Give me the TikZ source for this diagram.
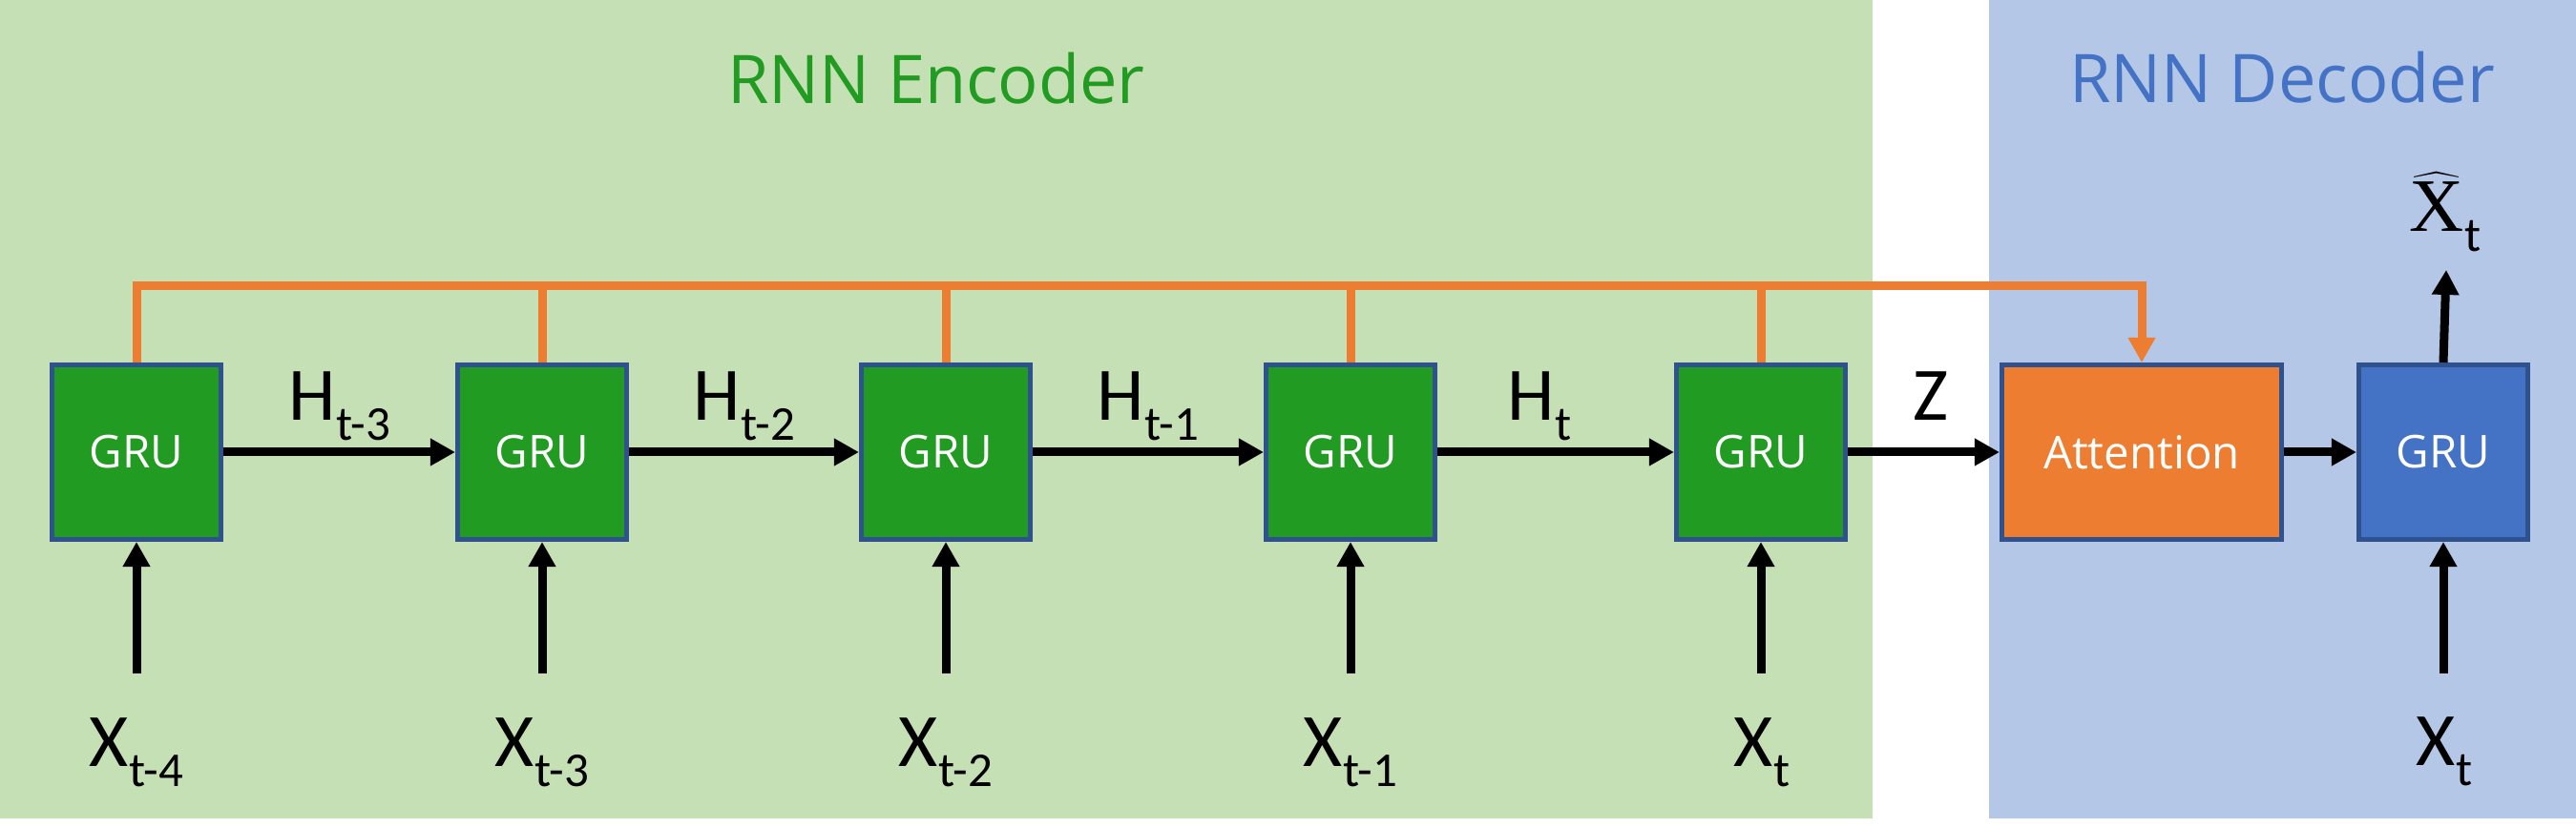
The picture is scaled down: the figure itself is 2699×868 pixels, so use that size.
\documentclass[tikz,border=0pt]{standalone}
\usepackage{amsmath}
\usepackage{graphicx}
\usepackage{fontspec}
\setmainfont{Carlito}
\newfontfamily\osans{Open Sans}
\newfontfamily\serifx{Liberation Serif}
\usetikzlibrary{arrows.meta}
\definecolor{bgG}{HTML}{C5E0B4}
\definecolor{bgB}{HTML}{B4C7E7}
\definecolor{gruG}{HTML}{229B22}
\definecolor{encT}{HTML}{229B22}
\definecolor{decB}{HTML}{4472C4}
\definecolor{attO}{HTML}{ED7D31}
\definecolor{bord}{HTML}{2F528F}
\newcommand{\sublbl}[2]{#1\raisebox{-5.8pt}{\fontsize{14.5}{14.5}\selectfont #2}}
\newcommand{\hatX}{\ooalign{{\serifx X}\cr\hidewidth\raisebox{11pt}{\fontsize{9.5}{9.5}\selectfont$\widehat{\hbox to 13.8pt{}}$}\hidewidth\cr}}
\begin{document}
\begin{tikzpicture}[x=0.01cm,y=-0.01cm,
  box/.style={draw=bord,line width=1.4pt,minimum width=1.77cm,minimum height=1.83cm,inner sep=0pt,text=white,font=\osans\fontsize{13.5}{13.5}\selectfont},
  grubox/.style={box,fill=gruG},
  arr/.style={line width=2.56pt,-{Triangle[length=7.4pt,width=7.7pt]}},
  oline/.style={draw=attO,line width=2.56pt,line join=miter},
  lbl/.style={anchor=base,inner sep=0pt,font=\fontsize{22.5}{22.5}\selectfont},
  title/.style={anchor=base,inner sep=0pt,font=\osans\fontsize{20}{20}\selectfont}]
\useasboundingbox (0,0) rectangle (2699,868);
\fill[bgG] (0,0) rectangle (1962,858);
\fill[bgB] (2084,0) rectangle (2699,858);
\node[title,text=encT] (tenc) at (981,109) {RNN Encoder};
\node[title,text=decB] (tdec) at (2391,108) {RNN Decoder};
% boxes
\node[grubox] (g1) at (143,474) {GRU};
\node[grubox] (g2) at (568,474) {GRU};
\node[grubox] (g3) at (991,474) {GRU};
\node[grubox] (g4) at (1415,474) {GRU};
\node[grubox] (g5) at (1845,474) {GRU};
\node[box,fill=attO,minimum width=2.93cm] (att) at (2244,474) {Attention};
\node[box,fill=decB] (dg) at (2560,474) {GRU};
% orange bus
\coordinate (bus) at (0,300);
\draw[oline,-{Triangle[length=7.4pt,width=7.7pt]}] (g1.north) |- (att.north |- bus) -- (att.north);
\foreach \g in {g2,g3,g4,g5}{\draw[oline] (\g.north) -- (\g.north |- bus);}
% horizontal arrows
\draw[arr] (g1.east) -- (g2.west);
\draw[arr] (g2.east) -- (g3.west);
\draw[arr] (g3.east) -- (g4.west);
\draw[arr] (g4.east) -- (g5.west);
\draw[arr] (g5.east) -- (att.west);
\draw[arr] (att.east) -- (dg.west);
% H labels
\node[lbl] (h1) at (356,441) {\sublbl{H}{t-3}};
\node[lbl] (h2) at (780,441) {\sublbl{H}{t-2}};
\node[lbl] (h3) at (1203,441) {\sublbl{H}{t-1}};
\node[lbl] (h4) at (1613,441) {\sublbl{H}{t}};
\node[lbl] (z) at (2023,441) {Z};
% input arrows
\coordinate (i1) at (143,706);
\coordinate (i2) at (568,706);
\coordinate (i3) at (991,706);
\coordinate (i4) at (1415,706);
\coordinate (i5) at (1845,706);
\coordinate (i6) at (2560,706);
\draw[arr] (i1) -- (g1.south);
\draw[arr] (i2) -- (g2.south);
\draw[arr] (i3) -- (g3.south);
\draw[arr] (i4) -- (g4.south);
\draw[arr] (i5) -- (g5.south);
\draw[arr] (i6) -- (dg.south);
% X labels
\node[lbl] (x1) at (143,804) {\sublbl{X}{t-4}};
\node[lbl] (x2) at (568,804) {\sublbl{X}{t-3}};
\node[lbl] (x3) at (991,804) {\sublbl{X}{t-2}};
\node[lbl] (x4) at (1415,804) {\sublbl{X}{t-1}};
\node[lbl] (x5) at (1846,804) {\sublbl{X}{t}};
\node[lbl] (x6) at (2561,803) {\sublbl{X}{t}};
% output
\coordinate (o) at (2563,283);
\draw[arr] (dg.north) -- (o);
\node[lbl] (xh) at (2562,243) {\hatX\raisebox{-5.8pt}{\fontsize{14.5}{14.5}\selectfont t}};
\end{tikzpicture}
\end{document}
